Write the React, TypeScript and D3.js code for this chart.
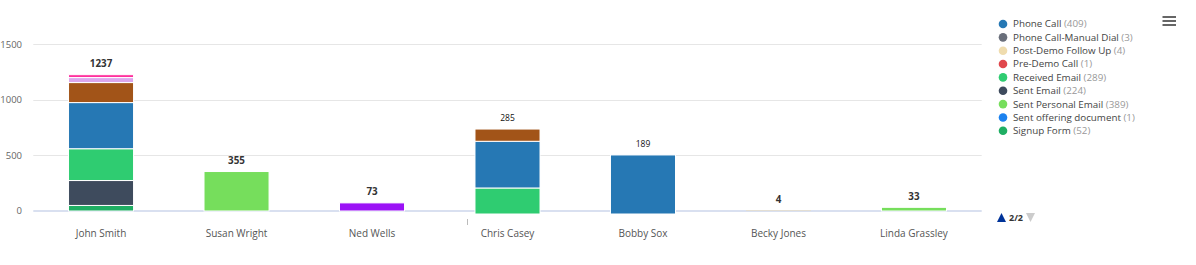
import React from "react";
import * as d3 from "d3";

const categories = ["John Smith", "Susan Wright", "Ned Wells", "Chris Casey", "Bobby Sox", "Becky Jones", "Linda Grassley"];
const totals = [1237, 355, 73, 285, 189, 4, 33];
const baseOffsets = [0, 0, 0, -27, -27, 0, 0];

// series in legend order (page 1 series are hidden from the visible legend page)
const seriesNames = [
  "Appointment", "Call Back", "Demo", "Meeting",
  "Phone Call", "Phone Call-Manual Dial", "Post-Demo Follow Up", "Pre-Demo Call",
  "Received Email", "Sent Email", "Sent Personal Email", "Sent offering document", "Signup Form",
];
const appointment = [26, 0, 0, 0, 0, 0, 0];
const callBack = [45, 0, 0, 0, 0, 0, 0];
const demo = [180, 0, 0, 110, 0, 0, 0];
const meeting = [0, 0, 73, 0, 0, 0, 0];
const phoneCall = [415, 0, 0, 420, 531, 0, 0];
const phoneCallManual = [0, 0, 0, 0, 0, 0, 0];
const postDemo = [0, 0, 0, 0, 0, 4, 0];
const preDemo = [0, 0, 0, 0, 0, 0, 0];
const receivedEmail = [286, 0, 0, 234, 0, 0, 0];
const sentEmail = [224, 0, 0, 0, 0, 0, 0];
const sentPersonalEmail = [0, 355, 0, 0, 0, 0, 33];
const sentOffering = [0, 0, 0, 0, 0, 0, 0];
const signupForm = [50, 0, 0, 0, 0, 0, 0];
const seriesValues = [
  appointment, callBack, demo, meeting, phoneCall, phoneCallManual, postDemo, preDemo,
  receivedEmail, sentEmail, sentPersonalEmail, sentOffering, signupForm,
];

const legendNames = [
  "Phone Call", "Phone Call-Manual Dial", "Post-Demo Follow Up", "Pre-Demo Call",
  "Received Email", "Sent Email", "Sent Personal Email", "Sent offering document", "Signup Form",
];
const legendCounts = [409, 3, 4, 1, 289, 224, 389, 1, 52];
const yTicks = [0, 500, 1000, 1500];

const colors: Record<string, string> = {
  "Appointment": "#ff2f9c",
  "Call Back": "#dba6ec",
  "Demo": "#a25418",
  "Meeting": "#9b12f6",
  "Phone Call": "#2678b4",
  "Phone Call-Manual Dial": "#6a6f7b",
  "Post-Demo Follow Up": "#efdcae",
  "Pre-Demo Call": "#e0474c",
  "Received Email": "#2fcc71",
  "Sent Email": "#3e4b5d",
  "Sent Personal Email": "#76de5c",
  "Sent offering document": "#1c82ef",
  "Signup Form": "#1fae63",
};

const plainLabels = new Set(["Chris Casey", "Bobby Sox"]);
const FONT = "'Open Sans', sans-serif";

export default function App() {
  const W = 1196, H = 265;
  const x = d3.scaleBand<string>().domain(categories).range([33.3, 981.7]).paddingInner(0.52).paddingOuter(0.26);
  const y = d3.scaleLinear().domain([0, 1500]).range([211, 44.2]);

  const segments: { key: string; cat: string; y0: number; y1: number }[] = [];
  const tops: number[] = [];
  categories.forEach((cat, i) => {
    let cum = baseOffsets[i];
    for (let s = seriesNames.length - 1; s >= 0; s--) {
      const v = seriesValues[s][i];
      if (v > 0) {
        segments.push({ key: seriesNames[s], cat, y0: cum, y1: cum + v });
        cum += v;
      }
    }
    tops.push(cum);
  });

  return (
    <svg width={W} height={H} style={{ position: "absolute", left: 0, top: 0, background: "#fff" }} fontFamily={FONT}>
      <rect width={W} height={H} fill="#fff" />
      {yTicks.filter((t) => t > 0).map((t) => (
        <line key={t} x1={33.3} x2={981.7} y1={Math.round(y(t)) + 0.5} y2={Math.round(y(t)) + 0.5} stroke="#e6e6e6" strokeWidth={1} />
      ))}
      {yTicks.map((t) => (
        <text key={"l" + t} x={22} y={y(t)} dy="0.35em" textAnchor="end" fontSize={9.5} fill="#666">{t}</text>
      ))}
      <line x1={33.3} x2={981.7} y1={y(0)} y2={y(0)} stroke="#ccd6eb" strokeWidth={1.5} />
      {segments.map((s, k) => {
        const h = Math.max(0, y(s.y0) - y(s.y1));
        return (
          <rect key={k} x={x(s.cat)!} width={x.bandwidth()} y={y(s.y1)} height={h}
            fill={colors[s.key]} stroke={h > 2 ? "#fff" : "none"} strokeWidth={1} />
        );
      })}
      {categories.map((c, i) => (
        <text key={"t" + c} x={x(c)! + x.bandwidth() / 2} y={y(tops[i]) - 11} dy="0.35em" textAnchor="middle"
          fontSize={plainLabels.has(c) ? 8.5 : 9.8} fontWeight={plainLabels.has(c) ? 400 : 700}
          fill={plainLabels.has(c) ? "#111" : "#333"}>{totals[i]}</text>
      ))}
      {categories.map((c) => (
        <text key={"x" + c} x={x(c)! + x.bandwidth() / 2} y={233} dy="0.35em" textAnchor="middle" fontSize={10} fill="#555">{c}</text>
      ))}
      <line x1={467.5} x2={467.5} y1={219} y2={225} stroke="#bbb" strokeWidth={1} />
      {legendNames.map((n, i) => (
        <g key={n} transform={`translate(1003,${24 + i * 13.35})`}>
          <circle r={4.3} fill={colors[n]} />
          <text x={10} dy="0.35em" fontSize={9.8} fill="#444">
            {n}
            <tspan fill="#999"> ({legendCounts[i]})</tspan>
          </text>
        </g>
      ))}
      {[17, 21, 25].map((yy) => (
        <rect key={yy} x={1162.5} y={yy - 1} width={13.5} height={2} fill="#666" />
      ))}
      <path d="M997,222 L1001.5,213 L1006,222 Z" fill="#003399" />
      <text x={1009} y={218} dy="0.35em" fontSize={9} fontWeight={700} fill="#333">2/2</text>
      <path d="M1026,213 L1035,213 L1030.5,222 Z" fill="#cccccc" />
    </svg>
  );
}
